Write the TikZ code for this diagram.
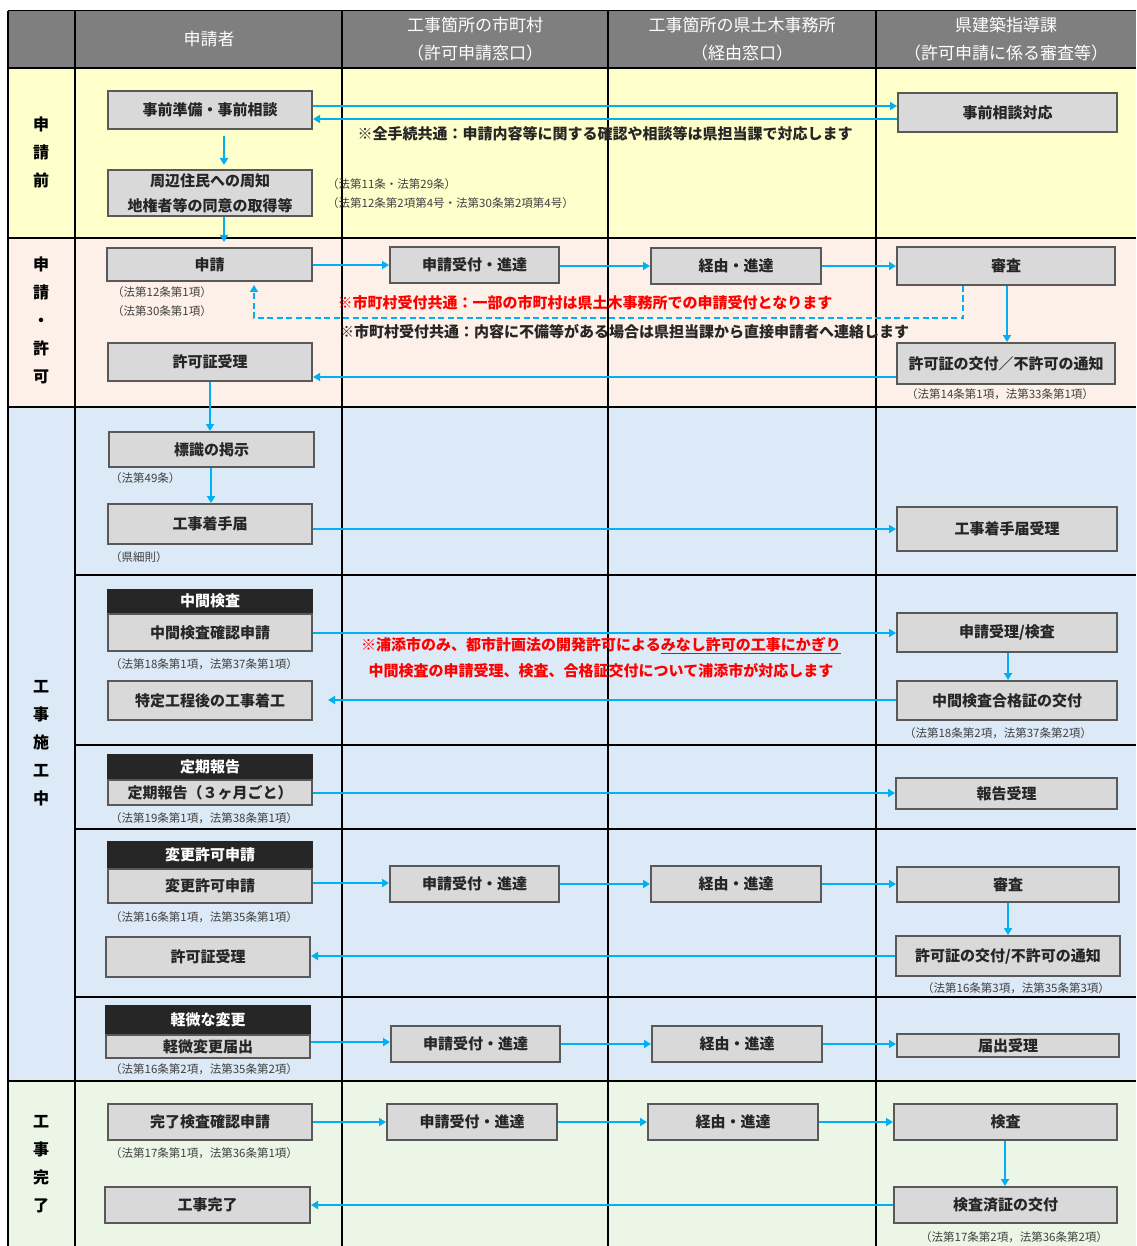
\documentclass[tikz,border=0pt]{standalone}
\usepackage{fontspec}
\setmainfont{Noto Sans CJK JP}
\usetikzlibrary{arrows.meta}
\definecolor{hdr}{HTML}{7F7F7F}
\definecolor{yel}{HTML}{FFFFCC}
\definecolor{pnk}{HTML}{FDF0E8}
\definecolor{blu}{HTML}{DCE9F6}
\definecolor{grn}{HTML}{EBF6E6}
\definecolor{bfill}{HTML}{D9D9D9}
\definecolor{bline}{HTML}{595959}
\definecolor{txt}{HTML}{262626}
\definecolor{arw}{HTML}{00B0F0}
\definecolor{reftxt}{HTML}{404040}
\definecolor{redtxt}{HTML}{FF0000}
\definecolor{blk}{HTML}{262626}
\newcommand\bx[7][]{\node[box,#1,minimum width={(#4)-(#2)-1.8},minimum height={(#5)-(#3)-1.8}] (#6) at ({((#2)+(#4))/2},{((#3)+(#5))/2}) {#7};}
\begin{document}
\begin{tikzpicture}[x=1pt,y=-1pt,
  box/.style={draw=bline,fill=bfill,line width=1.8pt,text=txt,font=\bfseries\fontsize{15}{25}\selectfont,inner sep=0pt,align=center},
  hbox/.style={fill=blk,draw=blk,text=white},
  arr/.style={draw=arw,line width=2.5pt,-{Triangle[length=7pt,width=8pt]}},
  lab/.style={font=\bfseries\fontsize{16}{28}\selectfont,align=center,text=black,inner sep=0pt},
  hd/.style={font=\fontsize{17}{28}\selectfont,align=center,text=white,inner sep=0pt},
  note/.style={font=\bfseries\fontsize{15}{18}\selectfont,text=txt,inner sep=0pt},
  rnote/.style={note,text=redtxt},
  ref/.style={font=\fontsize{11.5}{13}\selectfont,text=reftxt,inner sep=0pt},
  refl/.style={ref,anchor=west},
  grid/.style={draw=black,line width=1.3pt},
  band/.style={draw=black,line width=2.5pt},
  sub/.style={draw=black,line width=1.1pt}]
\useasboundingbox (0,0) rectangle (1136,1246);
% backgrounds
\fill[white] (0,0) rectangle (1136,1246);
\fill[hdr] (8,11) rectangle (1136,68);
\fill[yel] (8,68) rectangle (1136,238);
\fill[pnk] (8,238) rectangle (1136,407);
\fill[blu] (8,407) rectangle (1136,1081);
\fill[grn] (8,1081) rectangle (1136,1246);
% grid
\draw[grid,line width=1pt] (8,11) -- (1136,11);
\draw[grid,line width=1.2pt] (8,11) -- (8,1246);
\draw[grid,line width=1.8pt] (75,11) -- (75,1246);
\foreach \x in {342,608,876} \draw[grid] (\x,11) -- (\x,1246);
\foreach \y in {68,238,407,1081} \draw[band] (8,\y) -- (1136,\y);
\foreach \y in {575,745,829,997} \draw[sub] (75,\y) -- (1136,\y);
% header
\node[hd] (h1) at (209,39) {申請者};
\node[hd] (h2) at (475,39) {工事箇所の市町村\\（許可申請窓口）};
\node[hd] (h3) at (742,39) {工事箇所の県土木事務所\\（経由窓口）};
\node[hd] (h4) at (1006,39) {県建築指導課\\（許可申請に係る審査等）};
% band labels
\node[lab] (l1) at (41,152) {申\\請\\前};
\node[lab] (l2) at (41,320.5) {申\\請\\・\\許\\可};
\node[lab] (l3) at (41,743) {工\\事\\施\\工\\中};
\node[lab] (l4) at (41,1164.5) {工\\事\\完\\了};
% ---- band 1
\bx{107}{90}{313}{130}{pre}{事前準備・事前相談}
\bx{107}{169}{313}{217}{shuchi}{周辺住民への周知\\地権者等の同意の取得等}
\bx{897}{92}{1118}{133}{soudan}{事前相談対応}
\node[note] (n1) at (605,134) {※全手続共通：申請内容等に関する確認や相談等は県担当課で対応します};
\node[refl] (r1a) at (327,184) {（法第11条・法第29条）};
\node[refl] (r1b) at (327,203) {（法第12条第2項第4号・法第30条第2項第4号）};
% ---- band 2
\bx{106}{247}{313}{282}{shinsei}{申請}
\bx{389}{246}{560}{284}{uk1}{申請受付・進達}
\bx{650}{247}{822}{285}{ky1}{経由・進達}
\bx{896}{246}{1116}{286}{ss1}{審査}
\bx{107}{342}{313}{382}{jr1}{許可証受理}
\bx{896}{342}{1116}{385}{kf1}{許可証の交付／不許可の通知}
\node[refl] (r2a) at (112,292) {（法第12条第1項）};
\node[refl] (r2b) at (112,311) {（法第30条第1項）};
\node[ref] (r2c) at (1000,394) {（法第14条第1項，法第33条第1項）};
\node[rnote] (n2) at (585,303) {※市町村受付共通：一部の市町村は県土木事務所での申請受付となります};
\node[note] (n3) at (624,332) {※市町村受付共通：内容に不備等がある場合は県担当課から直接申請者へ連絡します};
% ---- band 3
\bx{108}{431}{315}{468}{hyo}{標識の掲示}
\bx{107}{503}{313}{545}{chk}{工事着手届}
\bx{896}{506}{1118}{552}{chkj}{工事着手届受理}
\node[refl] (r3a) at (110,478) {（法第49条）};
\node[refl] (r3b) at (110,557) {（県細則）};
\bx[hbox]{107}{589}{313}{613}{chuH}{中間検査}
\bx{107}{613}{313}{652}{chu}{中間検査確認申請}
\bx{107}{680}{313}{721}{tok}{特定工程後の工事着工}
\bx{896}{612}{1118}{653}{chuj}{申請受理/検査}
\bx{896}{680}{1118}{721}{gok}{中間検査合格証の交付}
\node[refl] (r3c) at (110,664) {（法第18条第1項，法第37条第1項）};
\node[ref] (r3d) at (998,733) {（法第18条第2項，法第37条第2項）};
\node[rnote] (n4) at (601,646) {※浦添市のみ、都市計画法の開発許可による\underline{みなし許可の工事にかぎり}};
\node[rnote] (n5) at (601,671) {中間検査の申請受理、検査、合格証交付について浦添市が対応します};
\bx[hbox]{107}{754}{313}{779}{teiH}{定期報告}
\bx{107}{779}{313}{806}{tei}{定期報告（３ヶ月ごと）}
\bx{895}{777}{1118}{810}{hok}{報告受理}
\node[refl] (r3e) at (110,818) {（法第19条第1項，法第38条第1項）};
\bx[hbox]{107}{841}{313}{868}{henH}{変更許可申請}
\bx{107}{868}{313}{904}{hen}{変更許可申請}
\bx{105}{936}{311}{978}{jr2}{許可証受理}
\bx{389}{865}{560}{903}{uk2}{申請受付・進達}
\bx{650}{865}{822}{903}{ky2}{経由・進達}
\bx{896}{866}{1120}{903}{ss2}{審査}
\bx{895}{935}{1121}{977}{kf2}{許可証の交付/不許可の通知}
\node[refl] (r3f) at (110,917) {（法第16条第1項，法第35条第1項）};
\node[ref] (r3g) at (1016,988) {（法第16条第3項，法第35条第3項）};
\bx[hbox]{105}{1005}{311}{1034}{keiH}{軽微な変更}
\bx{105}{1034}{311}{1059}{kei}{軽微変更届出}
\bx{390}{1025}{561}{1063}{uk3}{申請受付・進達}
\bx{651}{1025}{823}{1063}{ky3}{経由・進達}
\bx{896}{1033}{1120}{1058}{tdk}{届出受理}
\node[refl] (r3h) at (110,1069) {（法第16条第2項，法第35条第2項）};
% ---- band 4
\bx{107}{1103}{313}{1141}{kan}{完了検査確認申請}
\bx{104}{1186}{311}{1224}{kjk}{工事完了}
\bx{386}{1103}{558}{1141}{uk4}{申請受付・進達}
\bx{647}{1103}{819}{1141}{ky4}{経由・進達}
\bx{893}{1103}{1118}{1141}{ken}{検査}
\bx{893}{1186}{1118}{1224}{kzm}{検査済証の交付}
\node[refl] (r4a) at (110,1153) {（法第17条第1項，法第36条第1項）};
\node[ref] (r4b) at (1014,1237) {（法第17条第2項，法第36条第2項）};
% ---- connectors
\draw[arr] (pre.east|-0,106) -- (soudan.west|-0,106);
\draw[arr] (soudan.west|-0,119) -- (pre.east|-0,119);
\draw[arr,shorten <=6pt,shorten >=4pt] (pre.south-|224,0) -- (shuchi.north-|224,0);
\draw[arr,shorten >=5pt] (shuchi.south-|224,0) -- (shinsei.north-|224,0);
\draw[arr] (shinsei.east|-0,265) -- (uk1.west|-0,265);
\draw[arr] (uk1.east|-0,266) -- (ky1.west|-0,266);
\draw[arr] (ky1.east|-0,266) -- (ss1.west|-0,266);
\draw[arr] (ss1.south-|1007,0) -- (kf1.north-|1007,0);
\draw[arr] (kf1.west|-0,377) -- (jr1.east|-0,377);
\draw[arr,dashed,dash pattern=on 6pt off 3.5pt,shorten >=3pt] (ss1.south-|963,0) -- (963,318) -| (shinsei.south-|254,0);
\draw[arr] (jr1.south-|210,0) -- (hyo.north-|210,0);
\draw[arr] (hyo.south-|211,0) -- (chk.north-|211,0);
\draw[arr] (chk.east|-0,529) -- (chkj.west|-0,529);
\draw[arr] (chu.east|-0,633) -- (chuj.west|-0,633);
\draw[arr] (chuj.south-|1008,0) -- (gok.north-|1008,0);
\draw[arr,shorten >=15pt] (gok.west|-0,700) -- (tok.east|-0,700);
\draw[arr] (tei.east|-0,793) -- (hok.west|-0,793);
\draw[arr] (hen.east|-0,883) -- (uk2.west|-0,883);
\draw[arr] (uk2.east|-0,884) -- (ky2.west|-0,884);
\draw[arr] (ky2.east|-0,884) -- (ss2.west|-0,884);
\draw[arr] (ss2.south-|1008,0) -- (kf2.north-|1008,0);
\draw[arr] (kf2.west|-0,956) -- (jr2.east|-0,956);
\draw[arr] (kei.east|-0,1042) -- (uk3.west|-0,1042);
\draw[arr] (uk3.east|-0,1044) -- (ky3.west|-0,1044);
\draw[arr] (ky3.east|-0,1044) -- (tdk.west|-0,1044);
\draw[arr] (kan.east|-0,1122) -- (uk4.west|-0,1122);
\draw[arr] (uk4.east|-0,1122) -- (ky4.west|-0,1122);
\draw[arr] (ky4.east|-0,1122) -- (ken.west|-0,1122);
\draw[arr] (ken.south-|1005,0) -- (kzm.north-|1005,0);
\draw[arr] (kzm.west|-0,1205) -- (kjk.east|-0,1205);
\end{tikzpicture}
\end{document}
